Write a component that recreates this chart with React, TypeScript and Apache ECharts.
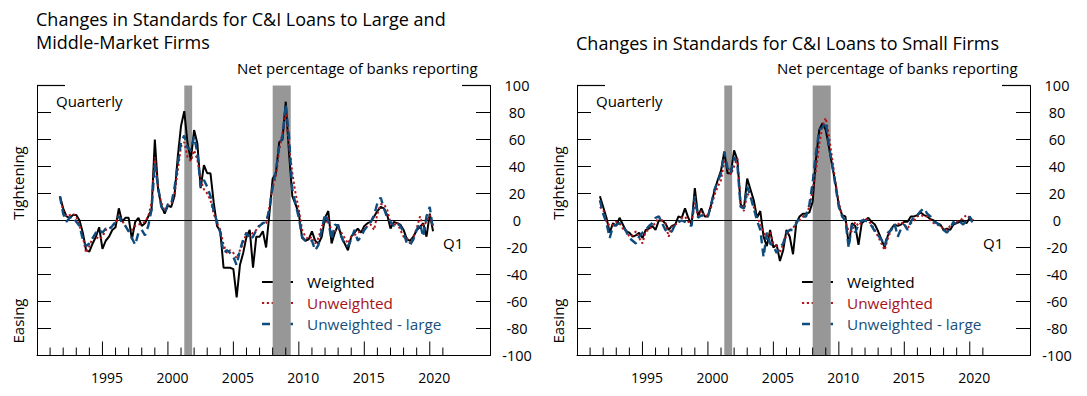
import React, { useEffect, useRef } from "react";
import * as echarts from "echarts";

// Quarterly observations start (plotted position) and step
const START = 1991.75;
const STEP = 0.25;

// Left panel: Large and middle-market firms
const largeWeighted = [
  18, 9, 3, 2, 4, 4, 0, -9, -22, -23,
  -17, -12, -5, -21, -15, -12, -7, -5, 9, -1,
  2, 2, -14, -1, 2, -4, -2, 3, 8, 60,
  23, 11, 5, 11, 10, 18, 47, 70, 81, 57,
  45, 67, 57, 24, 41, 35, 35, 13, -4, -8,
  -35, -35, -35, -36, -57, -33, -24, -12, -7, -35,
  -12, -12, -8, -20, 5, 31, 35, 58, 60, 88,
  50, 18, 12, 5, -13, -15, -14, -8, -15, -17,
  -12, 2, 7, -17, -9, -3, -12, -17, -22, -12,
  -9, -6, -9, -4, -2, -1, 3, 7, 10, 9,
  4, -6, -1, -2, -3, -7, -14, -15, -12, -7,
  -5, -2, -12, 5, -8,
];
const largeUnweighted = [
  18, 7, 3, 4, 5, 3, -4, -12, -24, -19,
  -13, -12, -14, -12, -7, -6, -4, -2, 4, 0,
  -4, -8, -7, -4, -3, -2, -1, 3, 13, 47,
  23, 13, 7, 11, 12, 19, 37, 55, 58, 47,
  44, 52, 45, 30, 23, 20, 15, 5, -2, -7,
  -18, -24, -22, -24, -28, -22, -17, -9, -12, -9,
  -7, -3, -2, -2, 10, 25, 33, 52, 65, 80,
  55, 35, 20, 8, -7, -12, -14, -12, -17, -13,
  -4, -2, 2, -9, -8, -6, -9, -13, -17, -12,
  -11, -9, -8, -7, -4, -3, -7, 5, 12, 12,
  8, -2, -4, -1, -7, -12, -13, -17, -12, -6,
  3, -4, -1, 4, -4,
];
const largeUnweightedLarge = [
  18, 5, -1, 2, 3, -1, -4, -14, -19, -17,
  -13, -9, -7, -9, -6, -7, -4, -1, 3, -2,
  -4, -8, -13, -18, -9, -7, -11, -4, 8, 42,
  25, 10, 6, 12, 12, 24, 42, 58, 63, 54,
  52, 62, 50, 25, 30, 25, 18, 7, -1, -9,
  -24, -22, -24, -27, -33, -22, -14, -9, -14, -12,
  -7, -4, -2, -1, 8, 25, 37, 55, 62, 86,
  62, 23, 12, 2, -12, -15, -14, -15, -22, -18,
  -7, 5, -1, -14, -3, -4, -12, -18, -19, -14,
  -7, -15, -12, -7, -4, -1, 4, 13, 17, 9,
  2, -1, -4, -2, -4, -9, -17, -18, -14, -7,
  -2, -12, 3, 10, -7,
];

// Right panel: Small firms
const smallWeighted = [
  18, 10, 2, -9, -2, -4, 2, -3, -8, -9,
  -12, -11, -9, -13, -7, -6, -4, -7, 0, 0,
  -2, -7, -4, -3, 3, 2, 9, 2, -3, 24,
  3, 9, 3, 3, 12, 22, 30, 37, 51, 35,
  35, 52, 45, 12, 9, 31, 23, 15, 2, 7,
  -12, -19, -7, -20, -18, -30, -22, -7, -12, -25,
  -2, 3, 5, 5, 6, 14, 45, 67, 72, 67,
  54, 40, 27, 11, 4, 3, -18, -2, -4, -18,
  -2, 0, 2, -1, -3, -8, -14, -20, -11, -6,
  -3, -4, -3, -1, -1, 3, 3, 4, 6, 4,
  3, 1, 0, -2, -3, -7, -6, -7, -3, -2,
  -1, 0, -2, 2, 0,
];
const smallUnweighted = [
  10, 8, -1, -4, -3, -1, -2, -6, -7, -12,
  -11, -8, -13, -17, -8, -7, -4, -2, 3, 0,
  -2, -12, -4, -3, -2, 2, 3, -1, -2, 13,
  3, 7, 3, 4, 10, 19, 25, 30, 44, 40,
  34, 40, 46, 12, 7, 20, 17, 10, 2, -2,
  -9, -12, -9, -17, -19, -24, -17, -11, -7, -6,
  -1, 0, 3, 5, 10, 23, 37, 56, 70, 76,
  62, 45, 28, 13, 4, -1, -8, -8, -1, -4,
  -1, 2, 0, -3, -7, -12, -17, -22, -13, -7,
  -4, -3, -1, -3, -6, -2, 0, 3, 4, 3,
  3, 0, -2, -3, -4, -6, -7, -4, -2, -1,
  0, 2, 4, 2, 0,
];
const smallUnweightedLarge = [
  15, 5, -2, -13, -4, -3, -2, -4, -8, -13,
  -15, -17, -12, -9, -7, -4, -2, 2, 3, -2,
  -7, -9, -8, -3, -1, 0, -1, -3, -4, 18,
  2, 4, 2, 3, 12, 23, 29, 35, 51, 39,
  35, 47, 41, 10, 9, 25, 18, 9, 0, -7,
  -27, -9, -17, -19, -24, -20, -17, -9, -7, -7,
  -2, 2, 3, 3, 12, 28, 50, 67, 69, 73,
  55, 41, 25, 10, 3, 0, -20, -3, -9, -3,
  0, 0, -1, -4, -8, -11, -14, -19, -9, -7,
  -2, -12, -6, -3, -7, -1, 3, 4, 7, 9,
  5, 3, -1, -2, -4, -7, -9, -6, -1, -3,
  -1, -3, 0, 3, -3,
];

const recessionStart = [2001.25, 2008.0];
const recessionEnd = [2001.85, 2009.38];
const xTickYears = [
  1991, 1992, 1993, 1994, 1995, 1996, 1997, 1998, 1999, 2000, 2001, 2002, 2003, 2004,
  2005, 2006, 2007, 2008, 2009, 2010, 2011, 2012, 2013, 2014, 2015, 2016, 2017, 2018,
  2019, 2020, 2021,
];
const xLabelYears = [1995, 2000, 2005, 2010, 2015, 2020];
const X_MIN = 1990;
const X_MAX = 2024.6;

const seriesNames = ["Weighted", "Unweighted", "Unweighted - large"];
const seriesColors = ["#000000", "#b3141b", "#0f4c7e"];
const textColors = ["#000000", "#a8121a", "#174f7c"];

const panels = [
  {
    title: "Changes in Standards for C&I Loans to Large and\nMiddle-Market Firms",
    titleY: 7,
    titleAlign: "top",
    left: 37,
    values: [largeWeighted, largeUnweighted, largeUnweightedLarge],
  },
  {
    title: "Changes in Standards for C&I Loans to Small Firms",
    titleY: 42.5,
    titleAlign: "middle",
    left: 577,
    values: [smallWeighted, smallUnweighted, smallUnweightedLarge],
  },
];

const FONT = '"Open Sans", "Noto Sans", sans-serif';

function toPairs(vals: number[]) {
  return vals.map((v, i) => [START + STEP * i, v]);
}

function txt(text: string, x: number, y: number, opts: any = {}) {
  const align = opts.align || "left";
  const vAlign = opts.vAlign || "middle";
  return {
    type: "text",
    x,
    y,
    rotation: opts.rotation || 0,
    silent: true,
    style: {
      text,
      fill: opts.color || "#000",
      fontSize: opts.size || 14,
      fontFamily: FONT,
      lineHeight: opts.lineHeight,
      align,
      verticalAlign: vAlign,
      textAlign: align,
      textVerticalAlign: vAlign,
    },
  };
}

export default function App() {
  const ref = useRef<HTMLDivElement>(null);

  useEffect(() => {
    document.body.style.margin = "0";
    const chart = echarts.init(ref.current!, undefined, { renderer: "svg" });

    const grids: any[] = [];
    const xAxes: any[] = [];
    const yAxes: any[] = [];
    const series: any[] = [];
    const graphics: any[] = [];

    panels.forEach((p, g) => {
      grids.push({ left: p.left, top: 85.5, width: 453, height: 270 });
      xAxes.push({
        type: "value",
        gridIndex: g,
        min: X_MIN,
        max: X_MAX,
        interval: 5,
        axisLine: { show: true, onZero: false, lineStyle: { color: "#000", width: 1 } },
        axisTick: { show: false },
        splitLine: { show: false },
        axisLabel: {
          margin: 15,
          color: "#000",
          fontSize: 14,
          fontFamily: FONT,
          padding: [0, 0, 0, 9],
          formatter: (v: number) => (xLabelYears.indexOf(v) >= 0 ? String(v) : ""),
        },
      });
      yAxes.push({
        type: "value",
        gridIndex: g,
        position: "right",
        min: -100,
        max: 100,
        interval: 20,
        axisLine: { show: true, lineStyle: { color: "#000", width: 1 } },
        axisTick: { show: true, inside: true, length: 14, lineStyle: { color: "#000" } },
        splitLine: { show: false },
        axisLabel: {
          margin: 27,
          align: "center",
          color: "#000",
          fontSize: 14.5,
          fontFamily: FONT,
        },
      });
      yAxes.push({
        type: "value",
        gridIndex: g,
        position: "left",
        min: -100,
        max: 100,
        interval: 20,
        axisLine: { show: true, lineStyle: { color: "#000", width: 1 } },
        axisTick: { show: true, inside: true, length: 14, lineStyle: { color: "#000" } },
        splitLine: { show: false },
        axisLabel: { show: false },
      });

      const yi = g * 2;
      // recession bars
      series.push({
        type: "custom",
        xAxisIndex: g,
        yAxisIndex: yi,
        silent: true,
        clip: false,
        z: 0,
        data: recessionStart.map((s, i) => [s, recessionEnd[i]]),
        renderItem: (_params: any, api: any) => {
          const a = api.coord([api.value(0), 100]);
          const b = api.coord([api.value(1), -100]);
          return {
            type: "rect",
            shape: { x: a[0], y: a[1], width: b[0] - a[0], height: b[1] - a[1] },
            style: { fill: "#979797" },
          };
        },
      });
      // x ticks
      series.push({
        type: "custom",
        xAxisIndex: g,
        yAxisIndex: yi,
        silent: true,
        clip: false,
        z: 3,
        data: xTickYears.map((y) => [y, -100]),
        renderItem: (_params: any, api: any) => {
          const yr = api.value(0);
          const pt = api.coord([yr, -100]);
          const len = yr % 5 === 0 ? 14 : 8;
          return {
            type: "line",
            shape: { x1: pt[0], y1: pt[1], x2: pt[0], y2: pt[1] - len },
            style: { stroke: "#000", lineWidth: 1 },
          };
        },
      });
      // long top ticks
      series.push({
        type: "custom",
        xAxisIndex: g,
        yAxisIndex: yi,
        silent: true,
        clip: false,
        z: 3,
        data: [
          [X_MIN, 100, 1],
          [X_MAX, 100, -1],
        ],
        renderItem: (_params: any, api: any) => {
          const pt = api.coord([api.value(0), api.value(1)]);
          const dir = api.value(2);
          return {
            type: "line",
            shape: { x1: pt[0], y1: pt[1], x2: pt[0] + dir * 28, y2: pt[1] },
            style: { stroke: "#000", lineWidth: 1.2 },
          };
        },
      });

      p.values.forEach((vals, si) => {
        const lineType =
          si === 0 ? "solid" : si === 1 ? [2.2, 2.6] : [8, 5];
        series.push({
          type: "line",
          name: seriesNames[si],
          xAxisIndex: g,
          yAxisIndex: yi,
          data: toPairs(vals),
          showSymbol: false,
          symbol: "none",
          z: 5 + si,
          lineStyle: {
            color: seriesColors[si],
            width: si === 2 ? 2.4 : 2,
            type: lineType,
          },
          markLine:
            si === 0
              ? {
                  silent: true,
                  symbol: ["none", "none"],
                  label: { show: false },
                  lineStyle: { color: "#000", width: 1, type: "solid" },
                  data: [{ yAxis: 0 }],
                }
              : undefined,
        });
      });

      const off = g === 0 ? 0 : 540;
      graphics.push(
        txt(p.title, 36 + off, p.titleY, {
          size: 18,
          vAlign: p.titleAlign,
          lineHeight: 23,
        })
      );
      graphics.push(txt("Net percentage of banks reporting", 237 + off, 68, { size: 15 }));
      graphics.push(txt("Quarterly", 56 + off, 101, { size: 15 }));
      graphics.push(txt("Q1", 443 + off, 243, { size: 15 }));
      graphics.push(
        txt("Tightening", 18 + off, 183, { size: 15, align: "center", rotation: Math.PI / 2 })
      );
      graphics.push(
        txt("Easing", 18 + off, 321, { size: 15, align: "center", rotation: Math.PI / 2 })
      );
      // legend
      const legY = [282, 303, 324];
      seriesNames.forEach((nm, si) => {
        graphics.push({
          type: "line",
          silent: true,
          shape: { x1: 262 + off, y1: legY[si], x2: 293 + off, y2: legY[si] },
          style: {
            stroke: seriesColors[si],
            lineWidth: si === 2 ? 2.4 : 2,
            lineDash: si === 0 ? null : si === 1 ? [2.2, 2.6] : [8, 5],
          },
        });
        graphics.push(txt(nm, 307 + off, legY[si], { size: 15.3, color: textColors[si] }));
      });
    });

    chart.setOption({
      animation: false,
      backgroundColor: "#ffffff",
      grid: grids,
      xAxis: xAxes,
      yAxis: yAxes,
      series,
      graphic: graphics,
    });

    return () => chart.dispose();
  }, []);

  return <div ref={ref} style={{ width: 1087, height: 396 }} />;
}
